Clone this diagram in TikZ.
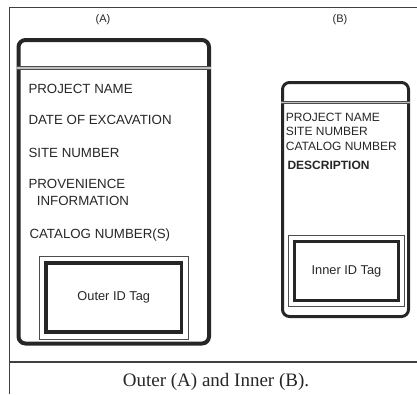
\documentclass[tikz,border=0pt]{standalone}
\usepackage{fontspec}
\setmainfont{Liberation Serif}
\setsansfont{Liberation Sans}
\tikzset{
    frame/.style = {draw=black!75, line width=0.9pt},
    card/.style = {rectangle, draw=black!85, rounded corners=7pt, inner sep=0pt},
    card_a/.style = {card, line width=4pt, minimum width=190.5pt, minimum height=303.5pt},
    card_b/.style = {card, line width=3pt, minimum width=126pt, minimum height=234pt},
    header/.style = {draw=black!70, double=black!25, line cap=butt},
    tag/.style = {rectangle, draw=black!85, inner sep=0pt, text=black!85, font=\sffamily\fontsize{12.8}{14}\selectfont},
    tag_rim/.style = {draw=black!70, line width=0.8pt},
    a_text/.style = {anchor=base west, inner sep=0pt, text=black!85, font=\sffamily\fontsize{13.3}{15}\selectfont},
    b_text/.style = {a_text, font=\sffamily\fontsize{12}{14}\selectfont},
    letter/.style = {anchor=base, inner sep=0pt, text=black!85, font=\sffamily\fontsize{11}{13}\selectfont}
}
\begin{document}
\begin{tikzpicture}[x=1pt, y=-1pt]
    \useasboundingbox (0,0) rectangle (417,394);
    % frame and caption box
    \draw[frame] (417,7.5) -- (9,7.5) -- (9,394);
    \draw[frame, line width=1.6pt] (9,362) -- (417,362);
    \node[anchor=base, inner sep=0pt, text=black!85, font=\rmfamily\fontsize{19}{22}\selectfont] (caption) at (216,386.7) {Outer (A) and Inner (B).};

    \node[letter] (label_a) at (103,22) {(A)};
    \node[letter] (label_b) at (340,22) {(B)};

    % outer bag (A)
    \node[card_a] (card_a) at (113.75,191.75) {};
    \draw[header, line width=1.1pt, double distance=1.3pt]
        ([yshift=-30pt]card_a.north west) -- ([yshift=-30pt]card_a.north east);
    \node[a_text] (a_name) at (28.3,93) {PROJECT NAME};
    \node[a_text] (a_date) at (28.3,124.5) {DATE OF EXCAVATION};
    \node[a_text] (a_site) at (28.3,157) {SITE NUMBER};
    \node[a_text] (a_prov) at (28.3,188) {PROVENIENCE};
    \node[a_text] (a_info) at (36.7,205) {INFORMATION};
    \node[a_text] (a_cat) at (29.3,238) {CATALOG NUMBER(S)};
    \node[tag, line width=3.5pt, minimum width=135.5pt, minimum height=69pt] (tag_a) at (113.75,297.5) {Outer ID Tag};
    \draw[tag_rim] ([xshift=-5.3pt,yshift=5.3pt]tag_a.north west) rectangle ([xshift=5.3pt,yshift=-5.3pt]tag_a.south east);

    % inner bag (B)
    \node[card_b] (card_b) at (345.5,199.5) {};
    \draw[header, line width=0.9pt, double distance=1pt]
        ([yshift=-21.3pt]card_b.north west) -- ([yshift=-21.3pt]card_b.north east);
    \node[b_text] (b_name) at (285.7,121) {PROJECT NAME};
    \node[b_text] (b_site) at (285.7,135.5) {SITE NUMBER};
    \node[b_text] (b_cat) at (285.7,150.7) {CATALOG NUMBER};
    \node[b_text, font=\sffamily\bfseries\fontsize{12}{14}\selectfont] (b_desc) at (287.3,169.3) {DESCRIPTION};
    \node[tag, line width=2.8pt, minimum width=104pt, minimum height=59pt] (tag_b) at (346.5,271) {Inner ID Tag};
    \draw[tag_rim] ([xshift=-4.3pt,yshift=4.3pt]tag_b.north west) rectangle ([xshift=4.3pt,yshift=-4.3pt]tag_b.south east);
\end{tikzpicture}
\end{document}
